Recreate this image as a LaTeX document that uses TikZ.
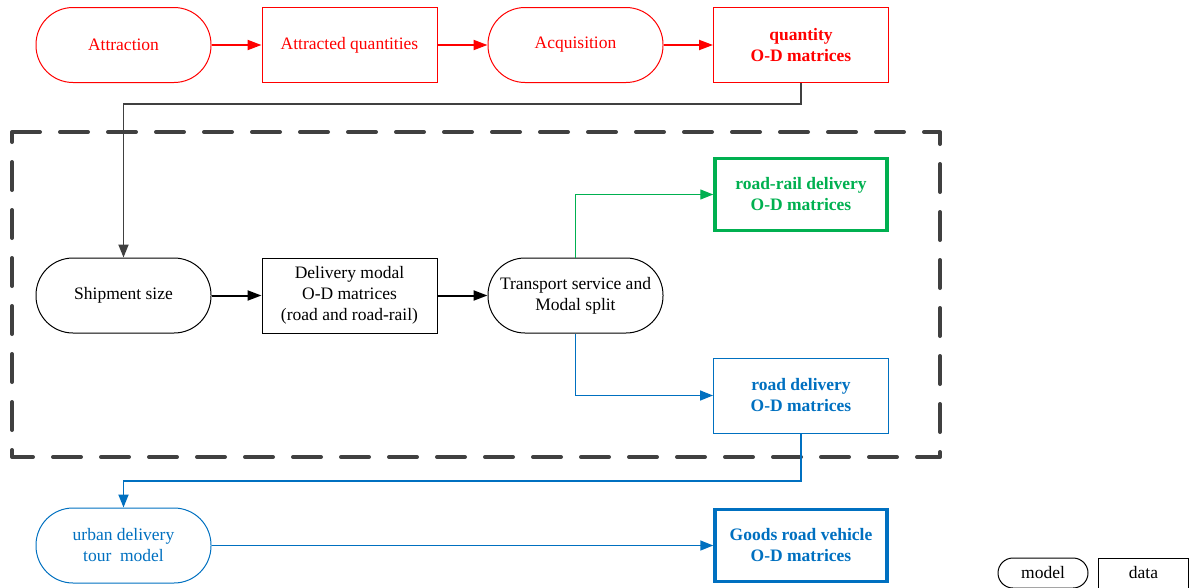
\documentclass[tikz,border=0pt]{standalone}
\usepackage{fontspec}
\setmainfont{Liberation Serif}
\usetikzlibrary{arrows.meta}
\definecolor{cred}{HTML}{FF0000}
\definecolor{cgreen}{HTML}{00B050}
\definecolor{cblue}{HTML}{0070C0}
\definecolor{cgray}{HTML}{404040}
\begin{document}
\begin{tikzpicture}[x=1pt,y=-1pt,
  every node/.style={font=\fontsize{17.5}{21}\selectfont, align=center, inner sep=0pt},
  model/.style={draw, rectangle, rounded corners=37pt, minimum width=175pt, minimum height=75pt, line width=1pt},
  datab/.style={draw, rectangle, minimum width=175pt, minimum height=75pt, line width=1pt},
  thickb/.style={datab, line width=3.5pt, minimum width=172pt, minimum height=72pt},
  conn/.style={line width=2pt, -{Triangle[length=14pt,width=10pt]}},
  thinconn/.style={line width=1.5pt, -{Triangle[length=13pt,width=10pt]}},
  dashbox/.style={draw=cgray, line width=4pt, dash pattern=on 28pt off 20pt, line cap=round, line join=round}
]
\useasboundingbox (0,0) rectangle (1189,587);
% dashed frame
\draw[dashbox] (12,132) -- (940,132) -- (940,457) -- (12,457) -- cycle;
% top row
\node[model, draw=cred, text=cred] (attr) at (123.5,45) {Attraction};
\node[datab, draw=cred, text=cred] (attq) at (349.5,45) {Attracted quantities};
\node[model, draw=cred, text=cred] (acq) at (575.5,45) {Acquisition};
\node[datab, draw=cred, text=cred, font=\fontsize{17.5}{21}\selectfont\bfseries] (qod) at (801,45) {quantity\\O-D matrices};
% middle row
\node[model] (ship) at (123.5,295.5) {Shipment size};
\node[datab] (dmod) at (349.5,295.5) {Delivery modal\\O-D matrices\\(road and road-rail)};
\node[model] (trans) at (575.5,295.5) {Transport service and\\Modal split};
\node[thickb, draw=cgreen, text=cgreen, font=\fontsize{17.5}{21}\selectfont\bfseries] (rr) at (801,194.5) {road-rail delivery\\O-D matrices};
\node[datab, draw=cblue, text=cblue, font=\fontsize{17.5}{21}\selectfont\bfseries] (rd) at (801,395.5) {road delivery\\O-D matrices};
% bottom row
\node[model, draw=cblue, text=cblue] (urb) at (123.5,545.5) {urban delivery\\tour\ \ model};
\node[thickb, draw=cblue, text=cblue, font=\fontsize{17.5}{21}\selectfont\bfseries] (goods) at (801,545.5) {Goods road vehicle\\O-D matrices};
% legend
\node[draw, rectangle, rounded corners=15pt, minimum width=90pt, minimum height=30pt, line width=1pt] (lmod) at (1043,573) {model};
\node[draw, rectangle, minimum width=90pt, minimum height=30pt, line width=1pt] (ldat) at (1143.5,573) {data};
% connectors
\draw[conn, cred] (attr) -- (attq);
\draw[conn, cred] (attq) -- (acq);
\draw[conn, cred] (acq) -- (qod);
\draw[thinconn, cgray, line width=1.8pt] (qod.south) |- (123.5,104) -- (ship.north);
\draw[conn, black] (ship) -- (dmod);
\draw[conn, black] (dmod) -- (trans);
\draw[thinconn, cgreen, line width=1.3pt] (trans.north) |- (rr.west);
\draw[thinconn, cblue] (trans.south) |- (rd.west);
\draw[thinconn, cblue, line width=1.8pt] (rd.south) |- (123.5,481) -- (urb.north);
\draw[thinconn, cblue] (urb) -- (goods);
\end{tikzpicture}
\end{document}
